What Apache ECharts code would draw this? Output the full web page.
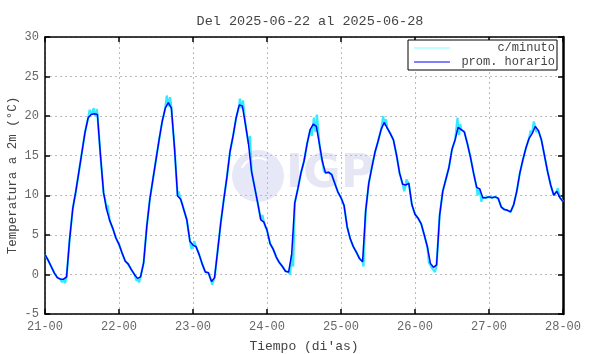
<!DOCTYPE html>
<html>
<head>
<meta charset="utf-8">
<script src="https://cdn.jsdelivr.net/npm/echarts@6/dist/echarts.min.js"></script>
<style>
  html, body { margin: 0; padding: 0; background: #fff; }
  #chart { width: 590px; height: 354px; }
</style>
</head>
<body>
<div id="chart"></div>
<script>
  // etiquetas del eje x (una por dia, cada 24 h)
  var dayLabels = ['21-00', '22-00', '23-00', '24-00', '25-00', '26-00', '27-00', '28-00'];
  var yTicks = [-5, 0, 5, 10, 15, 20, 25, 30];

  // promedio horario (h = 0 .. 168 desde 21-00)
  var hourly = [
    2.5, 1.8, 1.0, 0.2, -0.4, -0.6, -0.6, -0.3, 4.5, 8.3, 10.5, 13.0, 15.5, 18.0, 19.8, 20.2, 20.3, 20.2, 15.0, 10.3, 8.2, 6.8, 5.8, 4.6,
    3.8, 2.7, 1.7, 1.3, 0.6, 0.0, -0.5, -0.3, 1.5, 6.0, 9.5, 12.0, 14.5, 17.0, 19.3, 21.0, 21.7, 21.0, 16.0, 9.9, 9.5, 8.2, 6.9, 4.2,
    3.7, 3.5, 2.5, 1.3, 0.3, 0.2, -0.9, -0.4, 3.0, 6.5, 9.5, 12.3, 15.5, 17.5, 19.8, 21.4, 21.3, 19.0, 16.5, 13.0, 11.0, 9.0, 6.9, 6.6,
    5.6, 3.9, 3.2, 2.2, 1.5, 1.0, 0.4, 0.3, 2.5, 9.0, 10.8, 12.8, 14.3, 16.5, 18.3, 19.0, 18.7, 16.5, 14.2, 12.8, 12.9, 12.6, 11.5, 10.4,
    9.7, 8.7, 6.0, 4.5, 3.5, 2.8, 2.0, 1.6, 8.0, 11.5, 13.5, 15.4, 16.8, 18.3, 19.2, 18.5, 17.8, 17.0, 15.1, 12.8, 11.4, 11.3, 11.5, 8.8,
    7.6, 7.1, 6.4, 5.0, 3.5, 1.4, 0.9, 1.2, 7.5, 10.5, 12.0, 13.5, 15.8, 17.0, 18.6, 18.3, 18.0, 16.5, 14.8, 12.8, 11.0, 10.8, 9.7, 9.7,
    9.8, 9.7, 9.8, 9.6, 8.5, 8.2, 8.1, 7.9, 8.8, 10.5, 12.8, 14.5, 16.0, 17.2, 17.8, 18.7, 18.2, 17.0, 15.0, 13.0, 11.3, 10.0, 10.5, 9.7,
    9.2
  ];

  // picos visibles de los datos por minuto [hora, valor]
  var minuteSpikes = [
    [5.5, -1.0], [6.5, -1.1], [14.5, 20.8], [15.3, 20.0], [15.8, 21.0], [16.4, 20.0], [16.8, 20.9],
    [19.5, 9.5], [20.3, 8.8], [29.7, -0.8], [30.5, -1.0], [39.5, 22.6], [40.2, 21.2], [40.6, 22.4],
    [43.3, 10.5], [44.6, 8.8], [47.5, 3.2], [48.4, 4.2], [54.2, -1.3], [63.2, 22.2], [63.7, 21.0], [64.2, 22.0],
    [66.5, 17.5], [70.5, 7.5], [71.5, 6.0], [79.5, 0.0], [80.5, 1.0], [86.5, 17.5], [87.2, 19.8], [87.7, 18.0],
    [88.2, 20.2], [89.5, 15.0], [90.5, 13.0], [103.3, 1.0], [109.7, 20.0], [110.2, 18.8], [110.6, 19.6],
    [116.5, 10.5], [117.2, 12.0], [124.5, 1.5], [125.5, 0.8], [126.5, 0.3], [133.8, 19.8], [134.3, 17.6],
    [134.7, 19.0], [140.3, 10.0], [141.5, 9.2], [157.5, 18.2], [158.5, 19.3], [159.3, 18.0], [165.5, 9.8], [166.3, 10.9]
  ];

  var hourlyPts = hourly.map(function (v, i) { return [i, v]; });
  var minutePts = hourlyPts.concat(minuteSpikes).sort(function (a, b) { return a[0] - b[0]; });

  var font = 'Liberation Mono';
  var myChart = echarts.init(document.getElementById('chart'));

  var frameAxis = {
    axisLine: { show: true, onZero: false, lineStyle: { color: '#000', width: 1.5 } },
    axisTick: { inside: true, length: 5, lineStyle: { color: '#000', width: 1.5 } }
  };

  var option = {
    animation: false,
    textStyle: { fontFamily: font },
    title: {
      text: 'Del 2025-06-22 al 2025-06-28',
      left: 305, top: 9, textAlign: 'center',
      textStyle: { fontFamily: font, fontSize: 13.5, fontWeight: 'normal', color: '#444' }
    },
    legend: {
      right: 33, top: 40,
      orient: 'vertical',
      itemGap: 2,
      itemWidth: 36, itemHeight: 10,
      padding: [2, 2, 2, 6],
      borderColor: '#000', borderWidth: 1,
      backgroundColor: '#fff',
      icon: 'path://M0,5 L40,5 L40,6 L0,6 Z',
      formatter: function (name) { return '{t|' + name + '}'; },
      textStyle: {
        fontFamily: font, fontSize: 12, color: '#444',
        rich: { t: { width: 100, align: 'right', fontFamily: font, fontSize: 12, color: '#444' } }
      },
      data: [
        { name: 'c/minuto', itemStyle: { color: '#80ffff' } },
        { name: 'prom. horario', itemStyle: { color: '#0000ff' } }
      ]
    },
    grid: {
      left: 45, right: 27, top: 37, bottom: 40,
      show: false, containLabel: false, outerBoundsMode: 'none'
    },
    graphic: [
      { type: 'circle', z: 0, shape: { cx: 258, cy: 176, r: 26 }, style: { fill: '#e6e8f7' } },
      { type: 'arc', z: 0, shape: { cx: 258, cy: 176, r: 18, startAngle: 3.6, endAngle: 5.2 }, style: { stroke: '#fff', lineWidth: 2, fill: null } },
      { type: 'text', z: 0, left: 286, top: 152, style: { text: 'IGP', fontSize: 46, fontWeight: 'bold', fontFamily: 'DejaVu Sans', fill: '#e6e6f5' } }
    ],
    xAxis: [{
      type: 'value', min: 0, max: 168, interval: 24,
      name: "Tiempo (di'as)", nameLocation: 'middle', nameGap: 26, nameMoveOverlap: false,
      nameTextStyle: { fontFamily: font, fontSize: 13, color: '#444' },
      axisLine: frameAxis.axisLine, axisTick: frameAxis.axisTick,
      axisLabel: {
        margin: 7, fontFamily: font, fontSize: 12, color: '#666',
        formatter: function (v) { return dayLabels[v / 24]; }
      },
      splitLine: { show: true, lineStyle: { color: '#bbb', type: [2, 3] } }
    }, {
      type: 'value', min: 0, max: 168, interval: 24, position: 'top',
      axisLine: frameAxis.axisLine, axisTick: frameAxis.axisTick,
      axisLabel: { show: false }, splitLine: { show: false }
    }],
    yAxis: [{
      type: 'value', min: yTicks[0], max: yTicks[yTicks.length - 1], interval: 5,
      name: 'Temperatura a 2m (°C)', nameLocation: 'middle', nameGap: 26, nameMoveOverlap: false,
      nameTextStyle: { fontFamily: font, fontSize: 12.5, color: '#444' },
      axisLine: frameAxis.axisLine, axisTick: frameAxis.axisTick,
      axisLabel: { margin: 6, fontFamily: font, fontSize: 12, color: '#666' },
      splitLine: { show: true, lineStyle: { color: '#bbb', type: [2, 3] } }
    }, {
      type: 'value', min: -5, max: 30, interval: 5, position: 'right',
      axisLine: { show: true, onZero: false, lineStyle: { color: '#000', width: 2.5 } },
      axisTick: frameAxis.axisTick,
      axisLabel: { show: false }, splitLine: { show: false }
    }],
    series: [{
      name: 'c/minuto', type: 'line', data: minutePts,
      showSymbol: false, z: 2,
      lineStyle: { color: '#33eaff', width: 2.2 }, itemStyle: { color: '#80ffff' }
    }, {
      name: 'prom. horario', type: 'line', data: hourlyPts,
      showSymbol: false, z: 3,
      lineStyle: { color: '#0000ff', width: 1.5 }, itemStyle: { color: '#0000ff' }
    }]
  };

  myChart.setOption(option, true);
</script>
</body>
</html>
